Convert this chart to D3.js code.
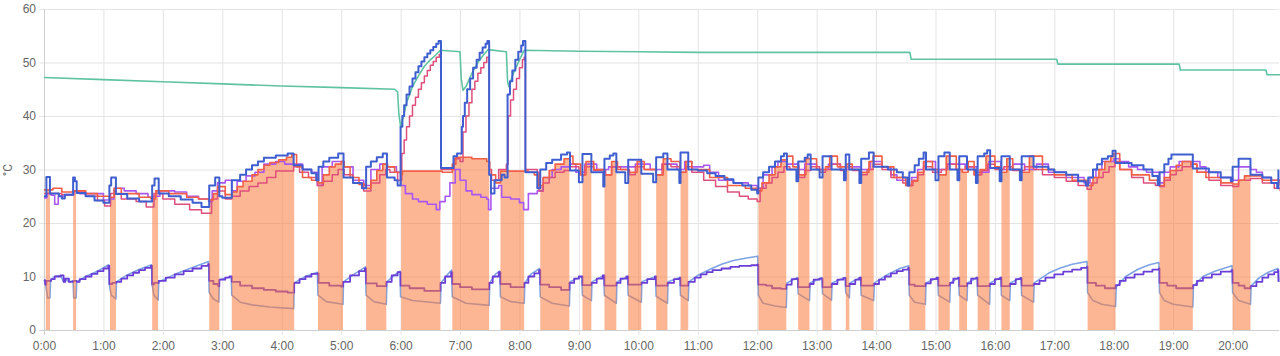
<!DOCTYPE html>
<html>
<head>
<meta charset="utf-8">
<script src="https://cdn.jsdelivr.net/npm/d3@7"></script>
<style>
  html, body { margin: 0; padding: 0; background: #fff; }
  svg { display: block; font-family: Roboto, "Noto Sans", sans-serif; }
  .tick text { fill: #666; font-size: 12px; }
</style>
</head>
<body>
<svg id="chart" width="1280" height="356"></svg>
<script>
// ---- data (time in hours since 0:00, value in °C) ----
const hourTicks = [0,1,2,3,4,5,6,7,8,9,10,11,12,13,14,15,16,17,18,19,20];
const tempTicks = [0,10,20,30,40,50,60];

// compressor running intervals [start, end]
const onIntervals = [[0.03,0.10],[0.49,0.54],[1.11,1.21],[1.82,1.92],[2.78,2.95],[3.16,4.21],[4.61,5.03],[5.42,5.76],[6.01,6.67],[6.87,7.49],[7.68,8.08],[8.35,8.84],[9.06,9.21],[9.43,9.63],[9.83,10.05],[10.30,10.49],[10.71,10.84],[12.02,12.49],[12.69,12.88],[13.10,13.25],[13.49,13.55],[13.75,13.96],[14.56,14.83],[15.05,15.24],[15.40,15.53],[15.71,15.91],[16.11,16.25],[16.45,16.65],[17.56,18.03],[18.77,19.33],[20.00,20.30]];

const tankTemp = [[0,47.2],[1,46.8],[2,46.4],[3,46.0],[4,45.6],[5,45.3],[5.9,45.0],[5.95,44.5],[5.97,40.5],[6.0,38.0],[6.05,40.0],[6.1,42.5],[6.15,44.0],[6.2,45.5],[6.3,47.5],[6.4,49.3],[6.5,50.5],[6.6,51.5],[6.67,52.3],[7.0,52.0],[7.02,47.0],[7.05,44.8],[7.1,45.5],[7.2,48.0],[7.3,50.0],[7.4,51.5],[7.47,52.4],[7.78,52.0],[7.8,46.5],[7.82,45.5],[7.9,48.0],[8.0,50.5],[8.08,52.3],[9,52.1],[10,52.0],[11,51.9],[14.57,51.9],[14.59,50.6],[17.04,50.6],[17.06,49.7],[19.1,49.7],[19.12,48.6],[20.56,48.6],[20.58,47.7],[20.8,47.7]];

const flowTemp = [[0,25.0],[0.04,28.6],[0.1,25.5],[0.25,25.0],[0.3,24.6],[0.35,25.3],[0.49,28.5],[0.52,27.8],[0.55,25.6],[0.7,25.0],[0.85,24.2],[1.0,23.8],[1.1,27.0],[1.13,28.5],[1.21,25.4],[1.4,24.6],[1.6,24.0],[1.82,27.0],[1.86,28.3],[1.93,25.5],[2.1,25.0],[2.3,24.4],[2.5,23.8],[2.65,23.0],[2.78,27.0],[2.88,28.5],[2.95,25.0],[3.0,24.7],[3.16,28.0],[3.3,29.0],[3.4,30.0],[3.5,30.8],[3.6,31.5],[3.7,32.2],[3.9,32.6],[4.1,33.0],[4.2,30.8],[4.35,30.0],[4.5,29.3],[4.58,28.0],[4.62,30.5],[4.7,31.5],[4.8,32.2],[4.95,33.0],[5.04,28.5],[5.2,27.5],[5.35,26.5],[5.42,30.5],[5.5,31.5],[5.6,32.3],[5.7,33.0],[5.77,28.5],[5.9,28.0],[5.95,27.0],[6.0,38],[6.03,40],[6.06,42],[6.1,44],[6.15,45.5],[6.2,47],[6.25,48.2],[6.3,49.3],[6.35,50.2],[6.4,51],[6.45,51.7],[6.5,52.3],[6.55,52.9],[6.6,53.5],[6.64,54.0],[6.68,30.3],[6.89,32.5],[6.95,33.0],[7.03,38],[7.05,40],[7.08,42.5],[7.12,45],[7.17,47],[7.22,49],[7.28,50.5],[7.33,51.8],[7.38,52.8],[7.43,53.5],[7.46,54.0],[7.49,29.0],[7.52,25.5],[7.58,28.0],[7.7,29.0],[7.75,28.5],[7.8,44],[7.84,46.5],[7.88,48.5],[7.93,50.5],[7.98,52],[8.03,53.2],[8.06,54],[8.1,29.5],[8.3,26.5],[8.35,30.0],[8.45,31.2],[8.55,31.8],[8.7,32.8],[8.8,33.2],[8.85,29.8],[9.0,27.6],[9.06,32.9],[9.21,29.5],[9.41,26.8],[9.43,32.0],[9.52,32.6],[9.58,33.0],[9.63,29.5],[9.78,27.5],[9.83,31.8],[10.05,29.2],[10.25,27.6],[10.3,32.3],[10.42,33.0],[10.49,30.0],[10.69,27.5],[10.71,33.2],[10.84,30.0],[11.0,29.8],[11.16,29.3],[11.3,28.8],[11.45,28.2],[11.6,27.5],[11.75,27.0],[11.9,26.2],[12.0,25.5],[12.02,28.5],[12.1,29.5],[12.2,30.5],[12.3,31.5],[12.4,32.5],[12.45,33.0],[12.5,30.0],[12.66,27.8],[12.69,31.5],[12.8,32.2],[12.85,32.8],[12.9,30.0],[13.05,28.5],[13.1,32.5],[13.25,30.0],[13.46,28.0],[13.49,32.8],[13.55,30.0],[13.72,27.5],[13.75,32.0],[13.88,33.2],[13.96,30.5],[14.2,30.0],[14.35,29.5],[14.45,28.5],[14.53,27.0],[14.56,29.5],[14.65,30.8],[14.72,32.0],[14.8,33.2],[14.84,30.0],[15.0,28.0],[15.05,32.5],[15.15,33.2],[15.24,30.0],[15.37,28.0],[15.40,32.5],[15.53,30.0],[15.68,27.5],[15.71,32.5],[15.82,33.0],[15.87,33.6],[15.92,30.3],[16.08,27.8],[16.11,32.5],[16.25,30.0],[16.42,28.0],[16.45,32.5],[16.65,30.5],[16.9,30.0],[17.0,29.5],[17.2,29.0],[17.4,27.8],[17.53,27.0],[17.57,28.5],[17.65,30.0],[17.72,31.0],[17.8,32.0],[17.9,32.5],[17.98,33.5],[18.03,31.2],[18.3,30.8],[18.5,30.0],[18.65,28.8],[18.74,27.1],[18.77,29.5],[18.85,31.0],[18.92,32.0],[18.97,32.8],[19.33,30.2],[19.6,29.5],[19.8,28.5],[19.97,27.8],[20.0,30.5],[20.1,32.0],[20.3,29.0],[20.5,28.5],[20.65,27.5],[20.75,26.5],[20.77,30.0]];

const returnTemp = [[0,26.2],[0.15,26.5],[0.3,25.8],[0.5,26.0],[0.7,25.5],[0.9,25.0],[1.1,24.8],[1.18,26.5],[1.3,25.5],[1.6,24.8],[1.8,24.5],[1.88,26.0],[2.1,25.5],[2.4,24.8],[2.6,24.5],[2.78,24.3],[2.85,25.5],[2.92,26.8],[3.05,25.3],[3.16,25.8],[3.25,26.8],[3.35,27.8],[3.5,29.0],[3.6,30.0],[3.7,30.8],[3.8,31.3],[3.95,31.8],[4.08,32.3],[4.17,32.8],[4.25,30.5],[4.35,28.5],[4.5,28.0],[4.62,27.5],[4.7,29.0],[4.8,30.5],[4.9,31.0],[5.0,31.5],[5.05,30.5],[5.15,28.5],[5.3,27.2],[5.42,26.5],[5.5,28.0],[5.6,29.8],[5.7,31.0],[5.78,30.5],[5.9,29.5],[6.0,29.0],[6.03,29.7],[6.7,29.5],[6.87,31.0],[6.93,32.3],[7.2,32.0],[7.45,31.5],[7.5,29.0],[7.6,27.5],[7.68,29.7],[8.15,29.5],[8.25,29.0],[8.32,27.0],[8.4,28.5],[8.5,29.8],[8.6,31.0],[8.75,32.0],[8.85,32.5],[8.9,31.0],[9.03,29.0],[9.12,31.5],[9.25,30.0],[9.43,29.0],[9.55,31.5],[9.65,30.0],[9.83,29.5],[9.98,31.5],[10.1,30.0],[10.3,29.0],[10.42,32.0],[10.55,31.5],[10.7,29.5],[10.8,31.5],[10.9,30.0],[11.2,28.5],[11.5,27.0],[11.8,26.5],[12.0,26.0],[12.08,27.5],[12.2,29.0],[12.3,30.5],[12.4,31.8],[12.5,32.5],[12.6,30.5],[12.7,29.0],[12.82,32.0],[13.0,30.0],[13.15,30.5],[13.22,32.5],[13.35,30.5],[13.5,31.0],[13.6,30.0],[13.75,29.5],[13.88,31.5],[13.95,32.5],[14.1,30.5],[14.3,28.5],[14.5,27.0],[14.6,27.8],[14.7,29.5],[14.8,31.5],[14.95,30.0],[15.05,29.0],[15.18,32.5],[15.35,30.0],[15.45,29.5],[15.55,31.5],[15.65,29.0],[15.75,30.0],[15.85,32.5],[16.0,30.5],[16.1,29.5],[16.2,32.0],[16.3,30.0],[16.45,29.5],[16.58,32.5],[16.8,30.0],[17.0,29.0],[17.3,28.0],[17.55,27.0],[17.65,28.5],[17.75,30.0],[17.85,31.5],[17.95,32.5],[18.0,33.0],[18.1,30.0],[18.3,29.0],[18.6,28.0],[18.77,27.0],[18.85,28.5],[18.95,29.8],[19.05,30.8],[19.15,31.5],[19.3,31.0],[19.4,29.5],[19.55,28.5],[19.8,27.5],[20.0,27.3],[20.1,28.0],[20.2,28.8],[20.3,28.8],[20.5,28.0],[20.8,27.0]];

const circuitTemp = [[0,25.5],[0.3,25.3],[0.5,26.0],[0.7,25.0],[0.9,24.2],[1.02,23.2],[1.12,25.5],[1.3,24.5],[1.55,24.0],[1.72,23.0],[1.85,25.5],[2.0,24.5],[2.2,23.5],[2.45,22.5],[2.65,21.8],[2.82,24.5],[2.92,26.0],[3.05,24.5],[3.16,25.0],[3.3,26.0],[3.45,26.8],[3.6,27.5],[3.75,28.5],[3.9,29.7],[4.2,30.5],[4.3,29.5],[4.45,28.5],[4.6,27.0],[4.7,27.8],[4.85,29.0],[4.95,30.0],[5.05,29.0],[5.2,27.5],[5.38,26.0],[5.5,27.5],[5.65,29.0],[5.75,30.0],[5.82,29.5],[5.95,28.0],[6.02,33],[6.06,35.5],[6.1,38],[6.15,40],[6.2,42],[6.25,43.5],[6.3,45],[6.35,46.2],[6.4,47.5],[6.45,48.5],[6.5,49.5],[6.55,50.2],[6.6,51.0],[6.65,51.5],[6.68,30.0],[6.9,32.0],[7.0,31.5],[7.05,37],[7.1,40],[7.15,42.5],[7.2,45],[7.25,46.5],[7.3,48],[7.35,49],[7.4,50],[7.45,51],[7.49,30.0],[7.53,28.0],[7.65,30.0],[7.78,31.0],[7.81,40],[7.85,43],[7.9,45],[7.95,47],[8.0,49],[8.05,50.5],[8.08,51],[8.1,30.0],[8.3,29.5],[8.33,26.0],[8.4,27.5],[8.5,28.5],[8.6,29.5],[8.75,29.8],[8.85,30.5],[9.0,29.0],[9.1,30.5],[9.25,29.8],[9.45,29.0],[9.55,30.5],[9.7,30.0],[9.85,29.0],[9.95,30.5],[10.1,30.0],[10.3,29.0],[10.4,31.0],[10.55,30.5],[10.7,29.5],[10.8,30.5],[10.9,29.5],[11.1,28.0],[11.3,26.8],[11.5,25.8],[11.7,25.0],[11.85,24.5],[12.0,24.0],[12.05,26.5],[12.15,27.5],[12.25,28.5],[12.35,29.5],[12.45,30.5],[12.55,30.0],[12.7,28.5],[12.8,29.8],[12.9,30.5],[13.05,29.5],[13.15,30.0],[13.25,31.0],[13.4,29.8],[13.5,30.5],[13.6,29.8],[13.75,29.0],[13.85,30.0],[13.95,31.0],[14.1,30.0],[14.25,28.5],[14.45,27.5],[14.55,27.0],[14.62,28.0],[14.7,29.0],[14.8,30.5],[14.95,29.5],[15.1,30.0],[15.2,31.0],[15.35,30.0],[15.5,30.5],[15.65,29.0],[15.78,29.8],[15.88,31.0],[16.0,30.0],[16.15,30.5],[16.3,29.8],[16.5,30.5],[16.65,30.0],[16.8,29.0],[17.0,28.5],[17.2,27.8],[17.4,27.0],[17.55,26.3],[17.62,27.5],[17.72,28.5],[17.82,29.5],[17.92,30.5],[18.02,31.5],[18.1,30.0],[18.3,28.5],[18.5,27.5],[18.7,27.0],[18.77,26.8],[18.85,28.0],[18.95,29.0],[19.05,29.8],[19.15,30.5],[19.3,31.0],[19.4,29.5],[19.6,28.0],[19.8,27.0],[20.0,26.8],[20.1,28.0],[20.3,28.3],[20.5,27.5],[20.7,26.5],[20.8,26.0]];

const roomTemp = [[0,24.7],[0.05,25.5],[0.12,25.2],[0.18,23.5],[0.24,25.0],[0.35,25.3],[0.5,26.0],[0.6,25.5],[0.9,25.5],[1.0,24.3],[1.1,24.5],[1.18,26.5],[1.35,26.0],[1.55,25.5],[1.75,24.8],[1.85,25.0],[1.95,26.0],[2.2,25.8],[2.4,25.0],[2.6,24.5],[2.77,24.0],[2.83,26.0],[2.92,27.5],[3.05,28.0],[3.16,26.0],[3.25,27.8],[3.4,28.8],[3.55,29.5],[3.7,31.0],[3.9,31.5],[4.05,31.0],[4.2,31.0],[4.35,30.0],[4.5,29.5],[4.6,27.0],[4.68,30.5],[4.85,31.5],[5.05,30.5],[5.2,28.0],[5.38,27.0],[5.5,30.0],[5.65,31.0],[5.78,30.5],[5.93,29.5],[6.0,27.0],[6.08,25.5],[6.2,24.5],[6.3,24.0],[6.45,23.5],[6.6,22.5],[6.66,24.0],[6.75,25.0],[6.83,27.5],[6.92,30.0],[7.0,28.0],[7.1,26.0],[7.2,25.3],[7.35,24.8],[7.45,24.5],[7.48,22.5],[7.52,26.5],[7.65,27.0],[7.7,24.8],[7.85,24.5],[8.0,23.8],[8.07,22.5],[8.15,25.5],[8.3,26.0],[8.4,28.5],[8.55,30.0],[8.7,30.5],[8.85,31.0],[8.95,29.5],[9.1,31.0],[9.3,30.0],[9.5,30.5],[9.7,30.5],[9.95,31.0],[10.2,30.0],[10.4,31.0],[10.65,30.0],[10.78,31.5],[10.9,30.5],[11.1,30.8],[11.2,29.5],[11.35,28.0],[11.6,27.5],[11.85,27.0],[12.0,26.5],[12.1,29.0],[12.25,30.5],[12.35,31.5],[12.5,31.0],[12.7,30.0],[12.8,31.0],[13.0,30.0],[13.2,31.0],[13.4,30.0],[13.6,30.5],[13.75,30.0],[13.9,31.5],[14.1,30.5],[14.25,29.0],[14.35,28.0],[14.5,27.0],[14.6,28.5],[14.7,30.0],[14.8,31.5],[15.0,30.0],[15.2,31.0],[15.5,30.5],[15.7,29.5],[15.9,31.5],[16.1,30.0],[16.3,31.0],[16.5,30.0],[16.7,31.0],[16.9,29.5],[17.2,28.5],[17.5,27.5],[17.6,28.5],[17.7,30.0],[17.8,31.5],[18.0,32.0],[18.1,31.5],[18.25,30.5],[18.4,30.0],[18.55,29.5],[18.77,27.5],[18.85,29.5],[18.95,30.5],[19.1,31.5],[19.35,31.5],[19.45,30.5],[19.55,29.5],[19.75,28.5],[20.0,28.0],[20.1,30.5],[20.3,30.0],[20.4,29.5],[20.5,28.5],[20.65,28.0],[20.8,27.5]];

const airInTemp = [[0,9.3],[0.02,8.5],[0.04,9.2],[0.12,9.5],[0.18,10.0],[0.28,10.2],[0.33,9.0],[0.36,9.6],[0.42,9.0],[0.49,9.2],[0.55,9.0],[0.6,9.5],[0.7,10.0],[0.8,10.5],[0.9,11.0],[1.0,11.5],[1.08,12.0],[1.1,8.6],[1.15,8.8],[1.21,9.0],[1.3,9.6],[1.4,10.2],[1.5,10.7],[1.6,11.2],[1.7,11.6],[1.8,12.0],[1.82,8.5],[1.85,8.8],[1.93,9.2],[2.05,9.8],[2.2,10.4],[2.35,11.0],[2.5,11.5],[2.65,12.0],[2.76,12.3],[2.78,9.2],[2.85,8.6],[2.93,8.2],[2.95,9.4],[3.05,9.8],[3.12,10.0],[3.16,9.0],[3.3,8.3],[3.5,7.8],[3.7,7.5],[3.9,7.2],[4.1,7.0],[4.21,8.8],[4.3,9.5],[4.4,10.0],[4.5,10.5],[4.6,10.6],[4.62,8.8],[4.8,8.3],[5.0,8.1],[5.03,9.0],[5.15,10.2],[5.3,11.0],[5.4,11.5],[5.42,8.7],[5.6,8.2],[5.76,9.0],[5.85,10.2],[5.95,10.8],[6.0,8.3],[6.15,7.8],[6.4,7.3],[6.67,8.8],[6.75,10.0],[6.85,10.8],[6.87,8.6],[7.0,8.0],[7.2,7.6],[7.49,8.8],[7.55,10.0],[7.65,10.8],[7.68,8.6],[7.85,8.0],[8.08,8.8],[8.15,10.0],[8.25,10.6],[8.33,11.2],[8.35,8.5],[8.5,8.0],[8.7,7.5],[8.84,8.8],[8.92,9.6],[9.0,10.0],[9.06,8.4],[9.21,8.8],[9.3,9.6],[9.4,10.2],[9.43,8.3],[9.63,8.8],[9.7,9.6],[9.8,10.0],[9.83,8.5],[10.05,8.8],[10.15,9.5],[10.28,10.0],[10.3,8.3],[10.49,8.8],[10.6,9.5],[10.7,9.8],[10.71,8.3],[10.84,9.0],[10.95,9.8],[11.05,10.4],[11.15,10.8],[11.25,11.2],[11.4,11.5],[11.55,11.8],[11.7,12.0],[11.9,12.1],[12.0,12.2],[12.02,8.5],[12.15,8.3],[12.25,7.8],[12.4,7.7],[12.49,8.5],[12.58,9.5],[12.66,9.6],[12.69,8.0],[12.88,8.6],[12.95,9.4],[13.05,9.6],[13.1,8.0],[13.25,8.6],[13.35,9.4],[13.45,9.7],[13.49,8.2],[13.55,8.6],[13.65,9.4],[13.72,9.8],[13.75,8.3],[13.96,8.6],[14.05,9.4],[14.15,10.0],[14.25,10.6],[14.35,11.0],[14.45,11.3],[14.54,11.6],[14.56,8.5],[14.65,8.2],[14.83,8.7],[14.92,9.5],[15.02,9.8],[15.05,8.3],[15.24,8.8],[15.3,9.6],[15.38,9.8],[15.4,8.2],[15.53,8.7],[15.6,9.6],[15.69,9.8],[15.71,8.2],[15.91,8.6],[16.0,9.5],[16.09,9.8],[16.11,8.2],[16.25,8.6],[16.35,9.5],[16.43,9.7],[16.45,8.3],[16.65,8.6],[16.75,9.2],[16.85,9.8],[17.0,10.4],[17.15,10.9],[17.3,11.3],[17.45,11.6],[17.55,11.8],[17.56,8.8],[17.7,8.3],[17.85,7.8],[18.03,8.4],[18.1,9.2],[18.2,9.8],[18.35,10.4],[18.5,10.9],[18.65,11.3],[18.76,11.5],[18.77,8.8],[18.9,8.3],[19.05,7.8],[19.33,8.4],[19.4,9.2],[19.5,9.8],[19.65,10.4],[19.8,10.9],[19.98,11.2],[20.0,8.8],[20.1,8.3],[20.2,7.8],[20.3,8.2],[20.4,9.0],[20.5,9.8],[20.6,10.4],[20.7,10.8],[20.76,11.2],[20.77,9.0]];

const airOutTemp = [[0,9.3],[0.03,8.5],[0.06,6.0],[0.1,6.0],[0.11,9.3],[0.18,10.0],[0.28,10.2],[0.33,9.0],[0.36,9.6],[0.42,9.0],[0.49,9.2],[0.5,6.0],[0.54,6.0],[0.55,9.0],[0.7,10.0],[0.9,11.0],[1.09,12.2],[1.1,8.5],[1.13,6.5],[1.21,5.8],[1.22,9.0],[1.4,10.3],[1.6,11.3],[1.81,12.2],[1.82,8.5],[1.85,6.5],[1.92,5.6],[1.93,9.0],[2.2,10.4],[2.5,11.7],[2.77,12.8],[2.78,7.0],[2.85,5.8],[2.94,5.2],[2.95,9.4],[3.15,10.0],[3.16,6.5],[3.3,5.2],[3.5,4.7],[3.8,4.3],[4.2,4.0],[4.21,8.8],[4.4,10.0],[4.6,10.8],[4.61,6.5],[4.75,5.3],[5.03,4.8],[5.04,9.0],[5.2,10.3],[5.41,11.8],[5.42,6.5],[5.55,5.3],[5.76,4.8],[5.77,9.0],[5.9,10.3],[5.99,11.0],[6.0,6.2],[6.2,5.5],[6.67,5.0],[6.68,8.8],[6.8,10.5],[6.86,11.2],[6.87,6.2],[7.1,5.0],[7.49,4.6],[7.5,8.8],[7.6,10.5],[7.67,11.0],[7.68,6.2],[7.85,5.3],[8.08,5.0],[8.09,8.8],[8.2,10.5],[8.34,11.5],[8.35,6.2],[8.55,5.0],[8.84,4.5],[8.85,9.0],[9.05,10.0],[9.06,6.5],[9.21,5.5],[9.22,9.0],[9.42,10.2],[9.43,6.5],[9.63,5.0],[9.64,9.0],[9.82,10.0],[9.83,6.5],[10.05,5.2],[10.06,9.0],[10.29,10.0],[10.3,6.3],[10.49,5.0],[10.5,9.0],[10.7,9.8],[10.71,6.5],[10.84,5.5],[10.85,9.0],[11.0,10.2],[11.2,11.3],[11.4,12.3],[11.6,13.0],[11.8,13.4],[12.01,13.8],[12.02,6.5],[12.1,5.0],[12.3,4.5],[12.49,4.2],[12.5,8.8],[12.68,9.8],[12.69,6.8],[12.88,5.5],[12.89,8.8],[13.09,9.8],[13.1,6.8],[13.25,5.6],[13.26,8.8],[13.48,9.8],[13.49,7.0],[13.55,6.0],[13.56,8.8],[13.74,9.8],[13.75,6.5],[13.96,5.5],[13.97,8.8],[14.2,10.4],[14.4,11.5],[14.55,12.0],[14.56,6.5],[14.65,5.2],[14.83,4.8],[14.84,8.8],[15.04,9.8],[15.05,6.5],[15.24,5.2],[15.25,8.8],[15.39,9.8],[15.4,6.5],[15.53,5.5],[15.54,8.8],[15.7,9.8],[15.71,6.5],[15.91,4.8],[15.92,8.8],[16.1,9.8],[16.11,6.5],[16.25,5.5],[16.26,8.8],[16.44,9.8],[16.45,6.5],[16.65,5.2],[16.66,8.8],[16.9,10.6],[17.1,11.6],[17.3,12.3],[17.55,12.8],[17.56,7.0],[17.65,5.5],[17.8,4.8],[18.03,4.4],[18.04,8.0],[18.2,10.0],[18.4,11.3],[18.6,12.2],[18.76,12.6],[18.77,7.0],[18.85,5.5],[19.0,4.8],[19.33,4.3],[19.34,8.2],[19.5,10.0],[19.7,11.0],[19.99,12.0],[20.0,7.0],[20.1,5.5],[20.3,4.8],[20.31,8.2],[20.45,9.8],[20.6,10.8],[20.76,11.5],[20.78,9.0]];

// ---- layout ----
const svg = d3.select("#chart");
const x = d3.scaleLinear().domain([0, 20.78]).range([44, 1279]);
const y = d3.scaleLinear().domain([0, 60]).range([330, 9]);

// y grid + labels
const yAxis = d3.axisLeft(y).tickValues(tempTicks).tickSize(-(1279 - 39)).tickPadding(3);
const gy = svg.append("g").attr("transform", "translate(39,0)").call(yAxis);
gy.select(".domain").remove();
gy.selectAll(".tick line").attr("stroke", d => d === 0 ? "#cfcfcf" : "#e4e4e4");

// x grid + labels
const xAxis = d3.axisBottom(x).tickValues(hourTicks).tickFormat(d => d + ":00")
  .tickSize(-(335 - 9)).tickPadding(6);
const gx = svg.append("g").attr("transform", "translate(0,335)").call(xAxis);
gx.select(".domain").remove();
gx.selectAll(".tick line").attr("stroke", d => d === 0 ? "#cfcfcf" : "#e4e4e4");

svg.append("text").attr("transform", "translate(12,170) rotate(-90)")
  .attr("text-anchor", "middle").attr("fill", "#666").attr("font-size", 12).text("°C");

const stepLine = d3.line().x(d => x(d[0])).y(d => y(d[1])).curve(d3.curveStepAfter);
const smoothLine = d3.line().x(d => x(d[0])).y(d => y(d[1]));

function draw(data, gen, color, w) {
  svg.append("path").datum(data).attr("d", gen).attr("fill", "none")
    .attr("stroke", color).attr("stroke-width", w).attr("stroke-linejoin", "round");
}

// lower lines (under the fill)
draw(airOutTemp, smoothLine, "#7ea4e3", 1.6);
draw(airInTemp, stepLine, "#6a3fd8", 1.8);

// compressor fill: area under return temperature, limited to running intervals
const clip = svg.append("clipPath").attr("id", "onclip");
clip.selectAll("rect").data(onIntervals).join("rect")
  .attr("x", d => x(d[0])).attr("width", d => x(d[1]) - x(d[0]))
  .attr("y", y(60)).attr("height", y(0) - y(60));
const area = d3.area().x(d => x(d[0])).y0(y(0)).y1(d => y(d[1])).curve(d3.curveStepAfter);
svg.append("path").datum(returnTemp).attr("d", area).attr("clip-path", "url(#onclip)")
  .attr("fill", "#fb7a3c").attr("fill-opacity", 0.55);

// upper lines
draw(tankTemp, smoothLine, "#5fc3a0", 1.6);
draw(roomTemp, stepLine, "#a957f2", 1.6);
draw(circuitTemp, stepLine, "#de4f7c", 1.5);
draw(returnTemp, stepLine, "#f25f46", 1.6);
draw(flowTemp, stepLine, "#3f5fd0", 2);
</script>
</body>
</html>
